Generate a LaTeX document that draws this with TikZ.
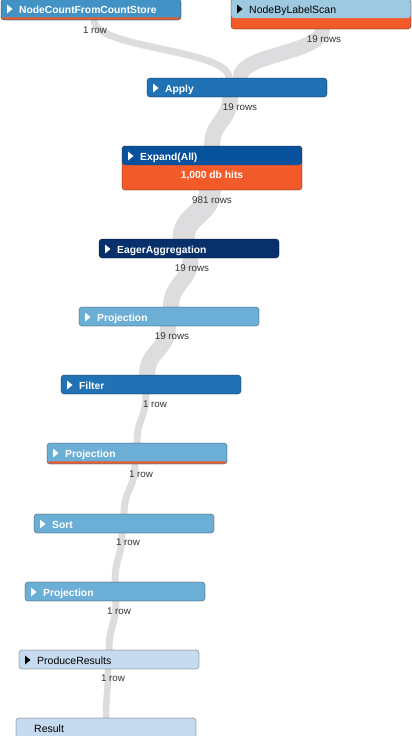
\documentclass[tikz,border=0pt]{standalone}
\usepackage{fontspec}
\setmainfont{Liberation Sans}
\definecolor{bA}{HTML}{C6DBEF}
\definecolor{bB}{HTML}{9ECAE1}
\definecolor{bC}{HTML}{6BAED6}
\definecolor{bD}{HTML}{4292C6}
\definecolor{bE}{HTML}{2171B5}
\definecolor{bF}{HTML}{08519C}
\definecolor{bG}{HTML}{08306B}
\definecolor{hot}{HTML}{F25A29}
\definecolor{ribbonc}{HTML}{DDDDE0}
\definecolor{labelc}{HTML}{333333}
\pgfdeclarelayer{bg}
\pgfsetlayers{bg,main}
\tikzset{
  opbox/.style={rectangle, rounded corners=3pt, minimum width=180pt, minimum height=19pt,
    inner sep=0pt, outer sep=0pt, anchor=north west, draw=black, draw opacity=0.3, line width=0.8pt},
  optitle/.style={anchor=base west, inner sep=0pt, font=\fontsize{10.3}{12}\selectfont\bfseries, text=white},
  optitledark/.style={anchor=base west, inner sep=0pt, font=\fontsize{10.5}{12}\selectfont, text=black},
  rowlabel/.style={anchor=base, inner sep=0pt, font=\fontsize{9.8}{12}\selectfont, text=labelc},
  ribbon/.style={draw=ribbonc, line cap=butt},
  hotband/.style={path picture={\fill[hot] ([yshift=0.3pt]path picture bounding box.south west) rectangle ([yshift=2.6pt]path picture bounding box.south east);}}
}
\newcommand{\optri}[2]{\fill[#2] ([xshift=6pt,yshift=-5.5pt]#1.north west) -- ++(5.5pt,-4.5pt) -- ++(-5.5pt,-4.5pt) -- cycle;}
\newcommand{\ribbonpath}[5]{%
  \begin{pgfonlayer}{bg}
  \draw[ribbon, line width=#5pt] ([xshift=#2pt,yshift=6pt]#1.south) -- ++(0,-6) .. controls +(0,-24.5) and +(0,24.5) .. ([xshift=#4pt]#3.north) -- ++(0,-6);
  \end{pgfonlayer}}
\begin{document}
\begin{tikzpicture}[x=1pt,y=1pt]
\useasboundingbox (0,0) rectangle (412,-736);
\clip (0,0) rectangle (412,-736);

% operator boxes
\node[opbox, fill=bD, minimum height=21pt, hotband] (ncfcs) at (1,1) {};
\node[opbox, fill=hot, minimum height=30pt,
  path picture={\fill[bB] (path picture bounding box.north west) rectangle ([yshift=11pt]path picture bounding box.south east);}] (nbls) at (231,1) {};
\node[opbox, fill=bE] (apply) at (147,-78) {};
\node[opbox, fill=hot, minimum height=44pt,
  path picture={\fill[bF] (path picture bounding box.north west) rectangle ([yshift=25pt]path picture bounding box.south east);}] (expand) at (122,-146) {};
\node[opbox, fill=bG] (eager) at (99,-239) {};
\node[opbox, fill=bC] (proja) at (79,-307) {};
\node[opbox, fill=bE] (filter) at (61,-375) {};
\node[opbox, fill=bC, minimum height=21pt, hotband] (projb) at (47,-443) {};
\node[opbox, fill=bC] (sort) at (34,-514) {};
\node[opbox, fill=bC] (projc) at (25,-582) {};
\node[opbox, fill=bA] (produce) at (19,-650) {};
\node[opbox, fill=bA, minimum height=25pt] (result) at (16,-718) {};

% triangles
\optri{ncfcs}{white}
\optri{nbls}{black}
\optri{apply}{white}
\optri{expand}{white}
\optri{eager}{white}
\optri{proja}{white}
\optri{filter}{white}
\optri{projb}{white}
\optri{sort}{white}
\optri{projc}{white}
\optri{produce}{black}

% titles
\node[optitle] (t-ncfcs) at ([xshift=18pt,yshift=-14pt]ncfcs.north west) {NodeCountFromCountStore};
\node[optitledark] (t-nbls) at ([xshift=18pt,yshift=-14pt]nbls.north west) {NodeByLabelScan};
\node[optitle] (t-apply) at ([xshift=18pt,yshift=-14pt]apply.north west) {Apply};
\node[optitle] (t-expand) at ([xshift=18pt,yshift=-14pt]expand.north west) {Expand(All)};
\node[optitle, anchor=base] (t-hits) at ([yshift=-32pt]expand.north) {1,000 db hits};
\node[optitle] (t-eager) at ([xshift=18pt,yshift=-14pt]eager.north west) {EagerAggregation};
\node[optitle] (t-proja) at ([xshift=18pt,yshift=-14pt]proja.north west) {Projection};
\node[optitle] (t-filter) at ([xshift=18pt,yshift=-14pt]filter.north west) {Filter};
\node[optitle] (t-projb) at ([xshift=18pt,yshift=-14pt]projb.north west) {Projection};
\node[optitle] (t-sort) at ([xshift=18pt,yshift=-14pt]sort.north west) {Sort};
\node[optitle] (t-projc) at ([xshift=18pt,yshift=-14pt]projc.north west) {Projection};
\node[optitledark] (t-produce) at ([xshift=18pt,yshift=-14pt]produce.north west) {ProduceResults};
\node[optitledark] (t-result) at ([xshift=18pt,yshift=-14pt]result.north west) {Result};

% row labels
\node[rowlabel] (l-ncfcs) at (95,-33.5) {1 row};
\node[rowlabel] (l-nbls) at (324,-42.5) {19 rows};
\node[rowlabel] (l-apply) at (240,-110.5) {19 rows};
\node[rowlabel] (l-expand) at (212,-203.5) {981 rows};
\node[rowlabel] (l-eager) at (192,-271.5) {19 rows};
\node[rowlabel] (l-proja) at (172,-339.5) {19 rows};
\node[rowlabel] (l-filter) at (155,-407.5) {1 row};
\node[rowlabel] (l-projb) at (141,-477.5) {1 row};
\node[rowlabel] (l-sort) at (128,-545.5) {1 row};
\node[rowlabel] (l-projc) at (119,-614.5) {1 row};
\node[rowlabel] (l-produce) at (113,-681.5) {1 row};

% ribbons (drawn on background layer)
\begin{pgfonlayer}{bg}
\draw[ribbon, line width=7pt] ([xshift=3pt,yshift=6pt]ncfcs.south) -- ++(0,-6) .. controls +(0,-29) and +(0,29) .. ([xshift=-8pt]apply.north) -- ++(0,-6);
\end{pgfonlayer}
\ribbonpath{nbls}{1.5}{apply}{3}{15}
\ribbonpath{apply}{-7}{expand}{0}{16}
\ribbonpath{expand}{-2}{eager}{-5.5}{22}
\ribbonpath{eager}{1.5}{proja}{2}{16}
\ribbonpath{proja}{-1}{filter}{-4}{16}
\ribbonpath{filter}{-5}{projb}{0}{7}
\ribbonpath{projb}{-2}{sort}{0}{7}
\ribbonpath{sort}{-2}{projc}{0}{7}
\ribbonpath{projc}{1}{produce}{0}{7}
\ribbonpath{produce}{-1}{result}{0}{6.5}
\end{tikzpicture}
\end{document}
